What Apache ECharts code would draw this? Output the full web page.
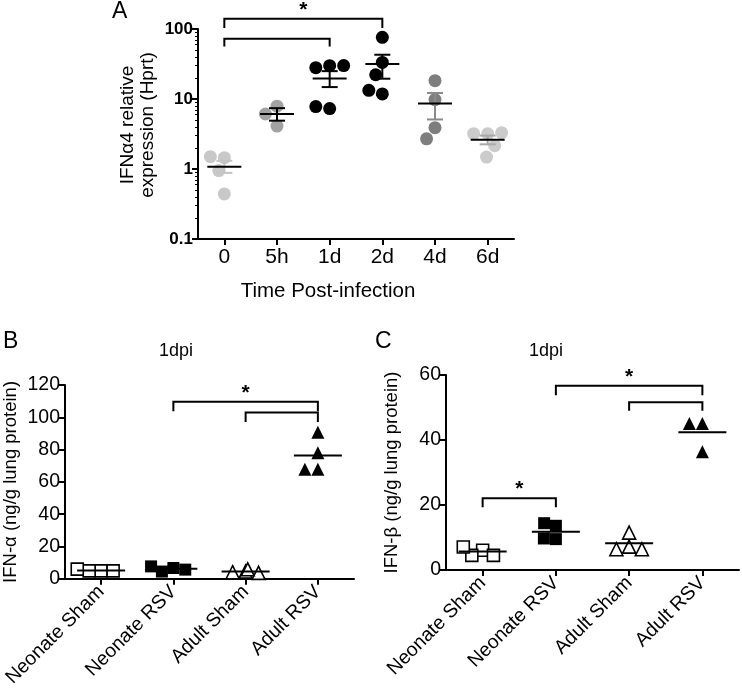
<!DOCTYPE html>
<html><head><meta charset="utf-8">
<script src="https://cdn.jsdelivr.net/npm/echarts@6/dist/echarts.min.js"></script>
<style>html,body{margin:0;padding:0;background:#fff}#c{width:742px;height:690px}</style>
</head><body><div id="c"></div>
<script>
// ---------- DATA ----------
const timeCategories = ['0', '5h', '1d', '2d', '4d', '6d'];
const ifna4_0h = [1.45, 1.5, 0.95, 0.44];
const ifna4_5h = [4.1, 7.9, 6.1];
const ifna4_1d = [29.9, 28, 30, 7.3, 7.8];
const ifna4_2d = [76, 33.3, 22.2, 11.8, 13.3];
const ifna4_4d = [18.3, 9.8, 3.9, 2.7];
const ifna4_6d = [3.2, 3.2, 3.3, 2.15, 1.48];
const ifna4Mean = [1.08, 6.1, 19.7, 31.6, 8.6, 2.62];
const ifna4SemLow = [0.88, 4.9, 14.8, 19.5, 5.1, 2.25];
const ifna4SemHigh = [1.31, 7.4, 25, 42.9, 12.2, 3.0];
const yTicksA = [0.1, 1, 10, 100];

const groupCategories = ['Neonate Sham', 'Neonate RSV', 'Adult Sham', 'Adult RSV'];
const ifnaNeonateSham = [4.9, 4.9, 4.9, 6.0];
const ifnaNeonateRsv = [6.7, 4.5, 5.7, 7.7];
const ifnaAdultSham = [4.5, 3.7, 4.1, 5.9];
const ifnaAdultRsv = [90.7, 78, 67.9, 67.9];
const ifnaMean = [5.2, 6.2, 4.6, 76.4];

const ifnbNeonateSham = [6.1, 4.5, 4.5, 7.1];
const ifnbNeonateRsv = [13.6, 9.5, 9.7, 14.4];
const ifnbAdultSham = [7.2, 6.4, 6.4, 11.5];
const ifnbAdultRsv = [45.1, 45.1, 36.4];
const ifnbMean = [5.7, 11.8, 8.2, 42.4];

// significance brackets: [fromCategory, toCategory, level, endLevel, hasStar]
const bracketsA = [[0, 3, 140, 103, 1], [0, 2, 72.6, 56.4, 0]];
const bracketsB = [[1, 3, 109.6, 103.8, 1], [2, 3, 102.9, 97.1, 0]];
const bracketsC = [[1, 3, 56.7, 53.8, 1], [2, 3, 51.6, 49, 0], [0, 1, 22.1, 19.3, 1]];

// ---------- STYLE ----------
const FONT = '"Liberation Sans", Arial, sans-serif';
const colorsA = ['#c8c8c8', '#a2a2a2', '#000000', '#000000', '#7e7e7e', '#cbcbcb'];
const errColorsA = ['#c4c4c4', '#000000', '#000000', '#000000', '#8a8a8a', '#a8a8a8'];

const chart = echarts.init(document.getElementById('c'), null, {renderer: 'canvas'});

function pairs(cat, vals) { return vals.map(v => [cat, v]); }

function meanRender(halfW, capW, errColors) {
  return function (params, api) {
    const c = api.value(0), m = api.value(1), lo = api.value(2), hi = api.value(3);
    const pm = api.coord([c, m]);
    const ch = [];
    if (errColors) {
      const col = errColors[params.dataIndex];
      const pl = api.coord([c, lo]), ph = api.coord([c, hi]);
      ch.push({type: 'line', shape: {x1: pm[0], y1: pl[1], x2: pm[0], y2: ph[1]}, style: {stroke: col, lineWidth: 2}});
      ch.push({type: 'line', shape: {x1: pm[0] - capW, y1: pl[1], x2: pm[0] + capW, y2: pl[1]}, style: {stroke: col, lineWidth: 2}});
      ch.push({type: 'line', shape: {x1: pm[0] - capW, y1: ph[1], x2: pm[0] + capW, y2: ph[1]}, style: {stroke: col, lineWidth: 2}});
    }
    ch.push({type: 'line', shape: {x1: pm[0] - halfW, y1: pm[1], x2: pm[0] + halfW, y2: pm[1]}, style: {stroke: '#000', lineWidth: 2}});
    return {type: 'group', children: ch};
  };
}

function bracketRender(params, api) {
  const a = api.value(0), b = api.value(1), lv = api.value(2), dr = api.value(3), star = api.value(4);
  const p1 = api.coord([a, lv]), p2 = api.coord([b, lv]), d = api.coord([a, dr]);
  const ch = [{
    type: 'polyline',
    shape: {points: [[p1[0], d[1]], [p1[0], p1[1]], [p2[0], p1[1]], [p2[0], d[1]]]},
    style: {stroke: '#000', fill: null, lineWidth: 2}
  }];
  if (star) {
    ch.push({type: 'text', x: (p1[0] + p2[0]) / 2, y: p1[1] + 2,
      style: {text: '*', font: 'bold 21px ' + FONT, textAlign: 'center', textVerticalAlign: 'bottom', fill: '#000'}});
  }
  return {type: 'group', children: ch};
}

const axisLineStyle = {lineStyle: {color: '#000', width: 2}};
const axisTickStyle = {show: true, length: 6, lineStyle: {color: '#000', width: 2}};

const series = [];
const groupsA = [ifna4_0h, ifna4_5h, ifna4_1d, ifna4_2d, ifna4_4d, ifna4_6d];
groupsA.forEach((vals, i) => {
  series.push({
    type: 'scatter', xAxisIndex: 0, yAxisIndex: 0, symbol: 'circle', symbolSize: 13,
    itemStyle: {color: colorsA[i], opacity: 1}, data: pairs(i, vals), z: 2
  });
});
series.push({
  type: 'custom', xAxisIndex: 0, yAxisIndex: 0, z: 5,
  renderItem: meanRender(17, 8, errColorsA), encode: {x: 0, y: [1, 2, 3]},
  data: ifna4Mean.map((m, i) => [i, m, ifna4SemLow[i], ifna4SemHigh[i]])
});
series.push({
  type: 'custom', xAxisIndex: 0, yAxisIndex: 0, z: 5, clip: false,
  renderItem: bracketRender, encode: {x: [0, 1], y: [2, 3]}, data: bracketsA
});

function addGroupPanel(idx, groups, means, brackets) {
  const shapes = [
    {symbol: 'rect', open: true}, {symbol: 'rect', open: false},
    {symbol: 'triangle', open: true}, {symbol: 'triangle', open: false}
  ];
  groups.forEach((vals, i) => {
    const s = shapes[i];
    series.push({
      type: 'scatter', xAxisIndex: idx, yAxisIndex: idx, symbol: s.symbol,
      symbolSize: s.symbol === 'rect' ? 12 : 13,
      itemStyle: s.open ? {color: '#fff', borderColor: '#000', borderWidth: 1.6, opacity: 1}
                        : {color: '#000', opacity: 1},
      data: pairs(i, vals), z: 2
    });
  });
  series.push({
    type: 'custom', xAxisIndex: idx, yAxisIndex: idx, z: 5,
    renderItem: meanRender(24, 0, null), encode: {x: 0, y: 1},
    data: means.map((m, i) => [i, m, m, m])
  });
  series.push({
    type: 'custom', xAxisIndex: idx, yAxisIndex: idx, z: 5, clip: false,
    renderItem: bracketRender, encode: {x: [0, 1], y: [2, 3]}, data: brackets
  });
}
addGroupPanel(1, [ifnaNeonateSham, ifnaNeonateRsv, ifnaAdultSham, ifnaAdultRsv], ifnaMean, bracketsB);
addGroupPanel(2, [ifnbNeonateSham, ifnbNeonateRsv, ifnbAdultSham, ifnbAdultRsv], ifnbMean, bracketsC);

function groupXAxis(gi) {
  return {
    type: 'category', gridIndex: gi, data: groupCategories, boundaryGap: true,
    jitter: 50, jitterOverlap: false, jitterMargin: 0,
    axisLine: axisLineStyle, axisTick: Object.assign({alignWithLabel: true}, axisTickStyle),
    axisLabel: {rotate: 45, fontSize: 19.5, color: '#000', fontFamily: FONT, margin: 10, interval: 0},
    splitLine: {show: false}
  };
}

const option = {
  animation: false,
  backgroundColor: '#fff',
  textStyle: {fontFamily: FONT},
  grid: [
    {left: 198, top: 29, width: 316, height: 210},
    {left: 61, top: 385, width: 293, height: 197},
    {left: 446, top: 375, width: 293, height: 195}
  ],
  xAxis: [
    {
      type: 'category', gridIndex: 0, data: timeCategories, boundaryGap: true,
      jitter: 40, jitterOverlap: false, jitterMargin: 1,
      axisLine: axisLineStyle, axisTick: Object.assign({alignWithLabel: true}, axisTickStyle),
      axisLabel: {fontSize: 21, color: '#000', fontFamily: FONT, margin: 8},
      name: 'Time Post-infection', nameLocation: 'middle', nameGap: 42,
      nameTextStyle: {fontSize: 20.5, color: '#000', fontFamily: FONT, padding: [0, 56, 0, 0]},
      splitLine: {show: false}
    },
    groupXAxis(1),
    groupXAxis(2)
  ],
  yAxis: [
    {
      type: 'log', gridIndex: 0, logBase: 10, min: yTicksA[0], max: yTicksA[yTicksA.length - 1],
      axisLine: {show: true, lineStyle: {color: '#000', width: 2}}, axisTick: axisTickStyle,
      minorTick: {show: true, splitNumber: 9, length: 3, lineStyle: {color: '#000', width: 1}},
      axisLabel: {fontSize: 17, fontWeight: 'bold', color: '#000', fontFamily: FONT, margin: 5,
        formatter: v => String(v)},
      name: 'IFN\u03b14 relative\nexpression (Hprt)', nameLocation: 'middle', nameGap: 40,
      nameTextStyle: {fontSize: 19, color: '#000', fontFamily: FONT, lineHeight: 20, padding: [0, 0, 0, 18]},
      splitLine: {show: false}
    },
    {
      type: 'value', gridIndex: 1, min: 0, max: 120, interval: 20,
      axisLine: {show: true, lineStyle: {color: '#000', width: 2}}, axisTick: axisTickStyle,
      axisLabel: {fontSize: 19.5, color: '#000', fontFamily: FONT, margin: 5},
      name: 'IFN-\u03b1 (ng/g lung protein)', nameLocation: 'middle', nameGap: 45,
      nameTextStyle: {fontSize: 18.5, color: '#000', fontFamily: FONT},
      splitLine: {show: false}
    },
    {
      type: 'value', gridIndex: 2, min: 0, max: 60, interval: 20,
      axisLine: {show: true, lineStyle: {color: '#000', width: 2}}, axisTick: axisTickStyle,
      axisLabel: {fontSize: 19.5, color: '#000', fontFamily: FONT, margin: 5},
      name: 'IFN-\u03b2 (ng/g lung protein)', nameLocation: 'middle', nameGap: 45,
      nameTextStyle: {fontSize: 18.5, color: '#000', fontFamily: FONT},
      splitLine: {show: false}
    }
  ],
  graphic: [
    {type: 'text', left: 112, top: 0, style: {text: 'A', font: '23px ' + FONT, fill: '#000'}},
    {type: 'text', left: 3, top: 330, style: {text: 'B', font: '23px ' + FONT, fill: '#000'}},
    {type: 'text', left: 375, top: 330, style: {text: 'C', font: '23px ' + FONT, fill: '#000'}},
    {type: 'text', x: 176, y: 342, style: {text: '1dpi', font: '18px ' + FONT, fill: '#000', textAlign: 'center'}},
    {type: 'text', x: 546, y: 342, style: {text: '1dpi', font: '18px ' + FONT, fill: '#000', textAlign: 'center'}}
  ],
  series: series
};
chart.setOption(option);
</script></body></html>
